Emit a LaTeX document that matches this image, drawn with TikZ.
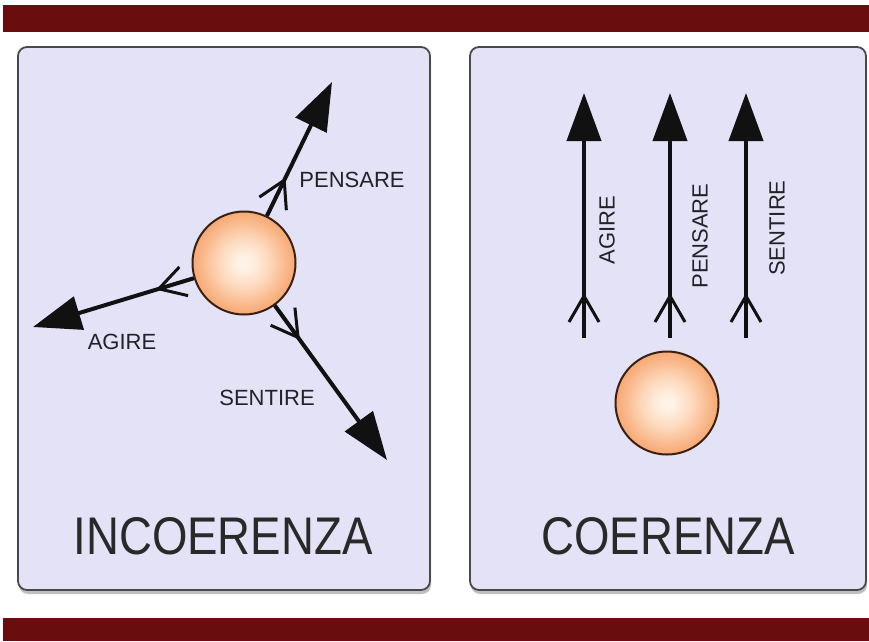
\documentclass[tikz,border=0pt]{standalone}
\usepackage{fontspec}
\setmainfont{Liberation Sans}
\usetikzlibrary{arrows.meta,shadows,calc}
\definecolor{band}{HTML}{6A0D0F}
\definecolor{panelfill}{HTML}{E4E2F6}
\definecolor{panelline}{HTML}{4A4A4A}
\definecolor{ballc0}{HTML}{FFF2E6}
\definecolor{ballc1}{HTML}{FDD9BD}
\definecolor{ballc2}{HTML}{F8B282}
\definecolor{ballc3}{HTML}{F39A5E}
\definecolor{ballc4}{HTML}{EA884A}
\definecolor{ballline}{HTML}{3A2012}
\definecolor{labeltext}{HTML}{222228}
\definecolor{inkc}{HTML}{111111}
\pgfdeclareradialshading{sphereshade}{\pgfpoint{0bp}{0bp}}{%
  color(0bp)=(ballc0); color(3bp)=(ballc0); color(12bp)=(ballc1);
  color(22bp)=(ballc2); color(30bp)=(ballc3); color(36bp)=(ballc4);
  color(50bp)=(ballc4)}
\tikzset{
  bandrect/.style={fill=band, draw=none},
  panel/.style={fill=panelfill, draw=panelline, line width=1.8pt,
    rounded corners=9pt,
    drop shadow={shadow xshift=1pt, shadow yshift=-4pt, opacity=0.5}},
  ball/.style={circle, minimum size=103pt, inner sep=0pt, draw=ballline,
    line width=2pt, shading=sphereshade},
  mainarrow/.style={draw=inkc, line width=4pt,
    -{Triangle[length=48pt,width=34pt]}},
  featherarrow/.style={draw=inkc, line width=3pt,
    -{Straight Barb[length=26pt,width=30pt]}},
  lbl/.style={font=\fontsize{22}{24}\selectfont, text=labeltext, inner sep=0pt},
  titletext/.style={font=\fontsize{53}{60}\selectfont, text=inkc!90, inner sep=0pt}
}
\begin{document}
\begin{tikzpicture}[x=1pt,y=-1pt]
\useasboundingbox (0,0) rectangle (869,641);
\fill[white] (0,0) rectangle (869,641);
% bands
\path[bandrect] (3,5) rectangle (869,32);
\path[bandrect] (3,618) rectangle (869,641);
% panels
\draw[panel] (18,47) rectangle (430,590);
\draw[panel] (470,47) rectangle (866,590);

% ---- left panel: INCOERENZA
\node[ball] (s1) at (244,263) {};
\coordinate (p1) at (332,82);
\coordinate (p2) at (33,327);
\coordinate (p3) at (387,460);
\coordinate (f1) at ($(s1.center)!95pt!(p1)$);
\coordinate (f2) at ($(s1.center)!92pt!(p2)$);
\coordinate (f3) at ($(s1.center)!95pt!(p3)$);
\draw[mainarrow] (s1) -- (p1);
\draw[mainarrow] (s1) -- (p2);
\draw[mainarrow] (s1) -- (p3);
\draw[featherarrow] (s1) -- (f1);
\draw[featherarrow] (s1) -- (f2);
\draw[featherarrow] (s1) -- (f3);
\node[lbl] (lp) at (352,180) {PENSARE};
\node[lbl] (la) at (122,342) {AGIRE};
\node[lbl] (ls) at (267,398) {SENTIRE};
\node[titletext] (t1) at (223,536) {\scalebox{0.86}[1]{INCOERENZA}};

% ---- right panel: COERENZA
\node[ball] (s2) at (667,403) {};
\coordinate (a1b) at (584,338); \coordinate (a1t) at (584,93); \coordinate (a1f) at (584,293);
\coordinate (a2b) at (670,338); \coordinate (a2t) at (670,93); \coordinate (a2f) at (670,293);
\coordinate (a3b) at (746,338); \coordinate (a3t) at (746,93); \coordinate (a3f) at (746,293);
\draw[mainarrow] (a1b) -- (a1t);
\draw[mainarrow] (a2b) -- (a2t);
\draw[mainarrow] (a3b) -- (a3t);
\draw[featherarrow] (a1b) -- (a1f);
\draw[featherarrow] (a2b) -- (a2f);
\draw[featherarrow] (a3b) -- (a3f);
\node[lbl, rotate=90] (ra) at (607,230) {AGIRE};
\node[lbl, rotate=90] (rp) at (700,236) {PENSARE};
\node[lbl, rotate=90] (rs) at (777,228) {SENTIRE};
\node[titletext] (t2) at (668,536) {\scalebox{0.86}[1]{COERENZA}};
\end{tikzpicture}
\end{document}
